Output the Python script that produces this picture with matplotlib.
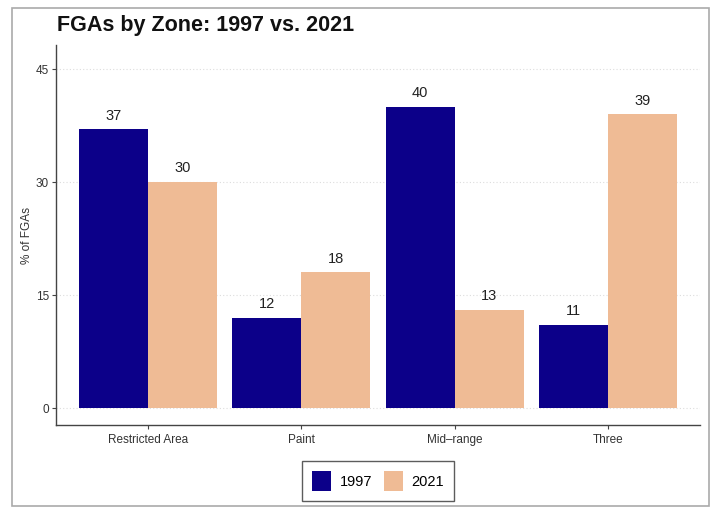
import matplotlib
matplotlib.use("Agg")
import matplotlib.pyplot as plt
import numpy as np
from matplotlib.patches import Rectangle, Patch

plt.rcParams['font.family'] = ['Liberation Sans', 'DejaVu Sans']

zones = ["Restricted Area", "Paint", "Mid\u2013range", "Three"]
years = ["1997", "2021"]
vals_1997 = [37, 12, 40, 11]
vals_2021 = [30, 18, 13, 39]
colors = ["#0c0089", "#efbb95"]
yticks = [0, 15, 30, 45]

W, H = 720, 516
fig = plt.figure(figsize=(W / 100, H / 100), dpi=100)

def fx(px):
    return px / W

def fy(py):
    return 1 - py / H

ax = fig.add_axes([fx(56), fy(425), fx(700) - fx(56), fy(45) - fy(425)])

x = np.arange(len(zones))
bw = 0.45
for i, (vals, c) in enumerate(zip([vals_1997, vals_2021], colors)):
    pos = x + (i - 0.5) * bw
    ax.bar(pos, vals, width=bw, color=c, zorder=2)
    for p, v in zip(pos, vals):
        ax.text(p, v + 0.9, str(v), ha='center', va='bottom', fontsize=10.5, color='#222222')

ax.set_xlim(-0.6, 3.6)
ax.set_ylim(-2.25, 48.2)
ax.set_yticks(yticks)
ax.set_yticklabels([str(t) for t in yticks])
ax.set_xticks(x)
ax.set_xticklabels(zones)
ax.tick_params(axis='both', labelsize=8.5, colors='#444444', length=3, width=0.8, labelcolor='#333333')
ax.tick_params(axis='y', pad=2)
ax.set_ylabel("% of FGAs", fontsize=8.5, color='#333333', labelpad=2)
ax.yaxis.grid(True, linestyle=(0, (1, 2)), color='#dddddd', linewidth=0.8, zorder=0)
ax.set_axisbelow(True)
for s in ['top', 'right']:
    ax.spines[s].set_visible(False)
for s in ['left', 'bottom']:
    ax.spines[s].set_color('#444444')
    ax.spines[s].set_linewidth(1.0)

fig.text(fx(57), fy(25), "FGAs by Zone: 1997 vs. 2021", fontsize=15.5, fontweight='bold',
         ha='left', va='center', color='#111111')

handles = [Patch(facecolor=c, edgecolor='none', label=y) for c, y in zip(colors, years)]
leg = fig.legend(handles=handles, loc='center', bbox_to_anchor=(fx(378), fy(481)),
                 ncol=2, fontsize=10.5, frameon=True, fancybox=False,
                 handlelength=1.3, handleheight=1.7, columnspacing=0.8, handletextpad=0.6,
                 borderpad=0.7, borderaxespad=0)
leg.get_frame().set_edgecolor('#333333')
leg.get_frame().set_linewidth(1.0)

border = Rectangle((fx(12), fy(506)), fx(709) - fx(12), fy(8) - fy(506),
                   transform=fig.transFigure, fill=False, edgecolor='#aaaaaa', linewidth=1.2)
fig.patches.append(border)

fig.savefig("out.png", dpi=100, facecolor='white')
